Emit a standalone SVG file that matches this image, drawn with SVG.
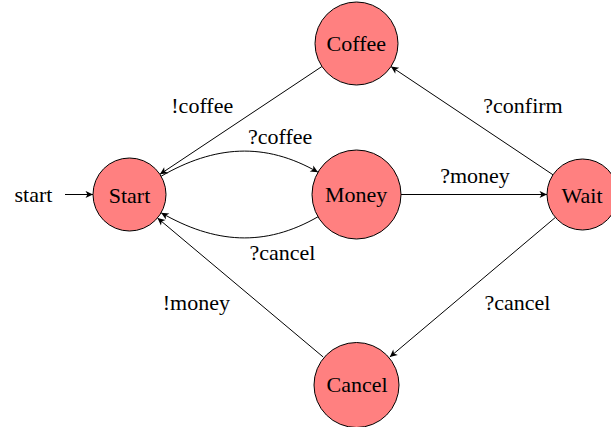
<svg xmlns="http://www.w3.org/2000/svg" width="611" height="427" viewBox="0 0 611 427">
<defs>
<marker id="arr" viewBox="-8 -4 9 8" refX="0" refY="0" markerWidth="9" markerHeight="8" markerUnits="userSpaceOnUse" orient="auto">
<path d="M0,0 L-7.5,-3.6 L-5.5,0 L-7.5,3.6 Z" fill="#000"/>
</marker>
</defs>
<rect width="611" height="427" fill="#fff"/>
<g id="connectors" fill="none" stroke="#000" stroke-width="1" marker-end="url(#arr)">
<path d="M65,194.5 L93,194.5"/>
<path d="M321.9,66.5 L159.9,174.3"/>
<path d="M161.1,176.25 C214.3,145.5 264.7,141.5 318,172.25"/>
<path d="M318,216.75 C264.7,247.5 214.4,243.5 161.1,212.75"/>
<path d="M401,194.5 L547,194.5"/>
<path d="M553,174.8 L391,66.6"/>
<path d="M555.4,217.4 L389.8,357"/>
<path d="M323.2,357 L157.5,218"/>
</g>
<text x="14.5" y="202" font-family="Liberation Serif" font-size="22" style="font-family:'Liberation Serif'">start</text>
<text x="171.3" y="113" font-family="Liberation Serif" font-size="22" style="font-family:'Liberation Serif'">!coffee</text>
<text x="248" y="144" font-family="Liberation Serif" font-size="22" style="font-family:'Liberation Serif'">?coffee</text>
<text x="483.3" y="113" font-family="Liberation Serif" font-size="22" style="font-family:'Liberation Serif'">?confirm</text>
<text x="440.2" y="183" font-family="Liberation Serif" font-size="22" style="font-family:'Liberation Serif'">?money</text>
<text x="249.5" y="260" font-family="Liberation Serif" font-size="22" style="font-family:'Liberation Serif'">?cancel</text>
<text x="162.7" y="310" font-family="Liberation Serif" font-size="22" style="font-family:'Liberation Serif'">!money</text>
<text x="484.5" y="310" font-family="Liberation Serif" font-size="22" style="font-family:'Liberation Serif'">?cancel</text>
<g id="node-start">
<circle fill="#ff8080" stroke="#000" stroke-width="1" cx="129.5" cy="194.5" r="36.5"/>
<text x="108.7" y="202.5" font-family="Liberation Serif" font-size="22" style="font-family:'Liberation Serif'">Start</text>
</g>
<g id="node-coffee">
<circle fill="#ff8080" stroke="#000" stroke-width="1" cx="356.5" cy="43.5" r="41.5"/>
<text x="326.6" y="51" font-family="Liberation Serif" font-size="22" style="font-family:'Liberation Serif'">Coffee</text>
</g>
<g id="node-money">
<circle fill="#ff8080" stroke="#000" stroke-width="1" cx="356.5" cy="194.5" r="44.5"/>
<text x="324.9" y="201.5" font-family="Liberation Serif" font-size="22" style="font-family:'Liberation Serif'">Money</text>
</g>
<g id="node-wait">
<circle fill="#ff8080" stroke="#000" stroke-width="1" cx="582.5" cy="194.5" r="35.5"/>
<text x="561.6" y="203" font-family="Liberation Serif" font-size="22" style="font-family:'Liberation Serif'">Wait</text>
</g>
<g id="node-cancel">
<circle fill="#ff8080" stroke="#000" stroke-width="1" cx="356.5" cy="385" r="42.5"/>
<text x="326.5" y="392" font-family="Liberation Serif" font-size="22" style="font-family:'Liberation Serif'">Cancel</text>
</g>
</svg>
